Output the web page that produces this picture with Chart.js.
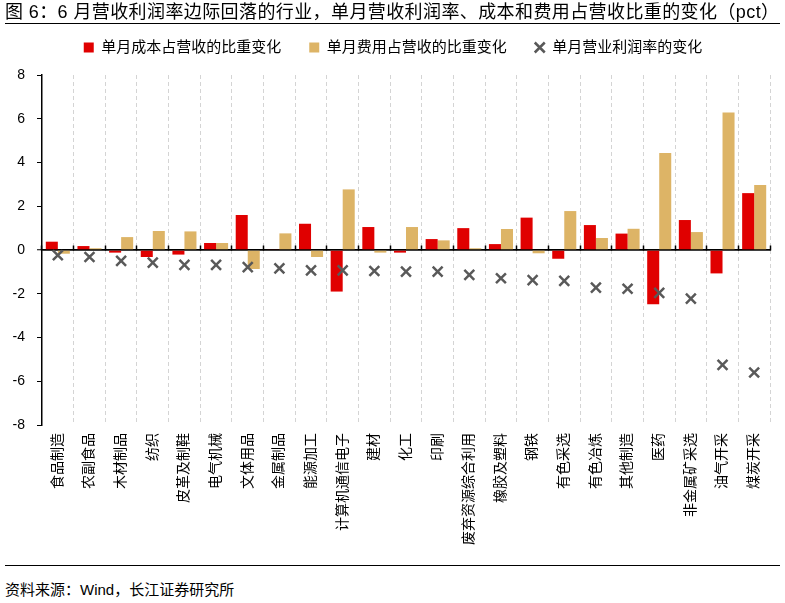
<!DOCTYPE html>
<html>
<head>
<meta charset="utf-8">
<script src="https://cdn.jsdelivr.net/npm/chart.js@4"></script>
<style>
  body { margin: 0; width: 785px; height: 603px; background: #fff; position: relative; overflow: hidden;
         font-family: "Liberation Sans", "Noto Sans CJK SC", sans-serif; color: #000; }
  #title { position: absolute; left: 5px; top: 1px; font-size: 18px; line-height: 22px; letter-spacing: 0.4px; white-space: nowrap; z-index: 2; }
  #titleLine { position: absolute; left: 5px; top: 23px; width: 775px; border-top: 1.5px solid #000; z-index: 2; }
  #wrap { position: absolute; left: 0; top: 0; width: 785px; height: 564px; z-index: 1; }
  #footLine { position: absolute; left: 5px; top: 565px; width: 775px; border-top: 1.5px solid #000; }
  #foot { position: absolute; left: 5px; top: 580px; font-size: 15px; line-height: 20px; white-space: nowrap; }
</style>
</head>
<body>
<div id="title">图 6：6 月营收利润率边际回落的行业，单月营收利润率、成本和费用占营收比重的变化（pct）</div>
<div id="titleLine"></div>
<div id="wrap"><canvas id="barChart"></canvas></div>
<div id="footLine"></div>
<div id="foot">资料来源：Wind，长江证券研究所</div>
<script>
// 行业
const industries = ['食品制造', '农副食品', '木材制品', '纺织', '皮革及制鞋', '电气机械', '文体用品', '金属制品',
    '能源加工', '计算机通信电子', '建材', '化工', '印刷', '废弃资源综合利用', '橡胶及塑料', '钢铁',
    '有色采选', '有色冶炼', '其他制造', '医药', '非金属矿采选', '油气开采', '煤炭开采'];

// 单月成本占营收的比重变化
const costShare = [0.38, 0.18, -0.12, -0.32, -0.21, 0.32, 1.6, 0.03, 1.2, -1.9, 1.05, -0.12,
    0.5, 1.0, 0.27, 1.48, -0.4, 1.14, 0.75, -2.48, 1.37, -1.07, 2.6];

// 单月费用占营收的比重变化
const expenseShare = [-0.17, 0.08, 0.59, 0.87, 0.85, 0.32, -0.87, 0.76, -0.32, 2.77, -0.12, 1.05,
    0.44, 0.08, 0.96, -0.15, 1.78, 0.55, 0.97, 4.44, 0.82, 6.29, 2.97];

// 单月营业利润率的变化
const marginChange = [-0.24, -0.32, -0.5, -0.58, -0.68, -0.68, -0.78, -0.84, -0.93, -0.93, -0.96, -0.99,
    -0.99, -1.14, -1.29, -1.38, -1.41, -1.72, -1.77, -1.96, -2.22, -5.25, -5.6];

const yTicks = [-8, -6, -4, -2, 0, 2, 4, 6, 8];

const cjkFont = '"Liberation Sans", "Noto Sans CJK SC", sans-serif';

// legend is wider spaced than it is tall, so trim its height after fit
const legendFit = {
    id: 'legendFit',
    beforeLayout(chart) {
        const lg = chart.legend;
        if (lg && !lg._patched) {
            const fit = lg.fit;
            lg.fit = function () {
                fit.call(this);
                this.height = 63;
            };
            lg._patched = true;
        }
    },
    afterLayout(chart) {
        // nudge legend to the right like the original
        if (chart.legend) {
            chart.legend.left += 8;
            chart.legend.right += 8;
        }
    }
};

const ctx = document.getElementById('barChart').getContext('2d');
new Chart(ctx, {
    data: {
        labels: industries,
        datasets: [{
            type: 'bar',
            label: '单月成本占营收的比重变化',
            data: costShare,
            backgroundColor: '#E00000',
            pointStyle: 'rect',
            categoryPercentage: 0.76,
            barPercentage: 1.0,
            order: 1
        }, {
            type: 'bar',
            label: '单月费用占营收的比重变化',
            data: expenseShare,
            backgroundColor: '#DDB466',
            pointStyle: 'rect',
            categoryPercentage: 0.76,
            barPercentage: 1.0,
            order: 1
        }, {
            type: 'line',
            label: '单月营业利润率的变化',
            data: marginChange,
            showLine: false,
            pointStyle: 'crossRot',
            pointRadius: 7,
            pointBorderWidth: 2.5,
            borderWidth: 2.5,
            borderColor: '#595959',
            backgroundColor: '#595959',
            order: 0
        }]
    },
    options: {
        responsive: true,
        maintainAspectRatio: false,
        animation: false,
        layout: { padding: { top: 12, right: 15, left: 0, bottom: 0 } },
        plugins: {
            tooltip: { enabled: false },
            legend: {
                position: 'top',
                labels: {
                    usePointStyle: true,
                    boxWidth: 10,
                    boxHeight: 10,
                    padding: 28,
                    color: '#000',
                    font: { size: 15, family: cjkFont },
                    sort: (a, b) => a.datasetIndex - b.datasetIndex
                }
            }
        },
        scales: {
            x: {
                offset: true,
                grid: { offset: true, color: '#d4d4d4', lineWidth: 1, drawTicks: false },
                border: { display: false, dash: [4, 3] },
                ticks: {
                    autoSkip: false,
                    minRotation: 90,
                    maxRotation: 90,
                    padding: 8,
                    color: '#000',
                    font: { size: 14, family: cjkFont }
                },
                afterFit: s => { s.height = 139; }
            },
            x2: {
                type: 'category',
                display: true,
                position: { y: 0 },
                offset: true,
                grid: { offset: true, drawOnChartArea: false, drawTicks: true, tickLength: -5, tickColor: '#000', tickWidth: 1.5 },
                border: { display: true, color: '#000', width: 1.5 },
                ticks: { display: false },
                afterFit: s => { s.height = 5; }
            },
            y: {
                min: -8,
                max: 8,
                afterBuildTicks: s => { s.ticks = yTicks.map(v => ({ value: v })); },
                grid: {
                    color: c => (c.tick && c.tick.value === 0 ? '#000' : 'rgba(0,0,0,0)'),
                    lineWidth: c => (c.tick && c.tick.value === 0 ? 1.5 : 1),
                    tickColor: '#000',
                    tickLength: 5,
                    tickWidth: 1
                },
                border: { display: true, color: '#000', width: 1.5 },
                ticks: {
                    padding: 12,
                    color: '#000',
                    font: { size: 14, family: '"Liberation Sans", Arial, sans-serif' }
                },
                afterFit: s => { s.width = 42; }
            }
        }
    },
    plugins: [legendFit]
});
</script>
</body>
</html>
